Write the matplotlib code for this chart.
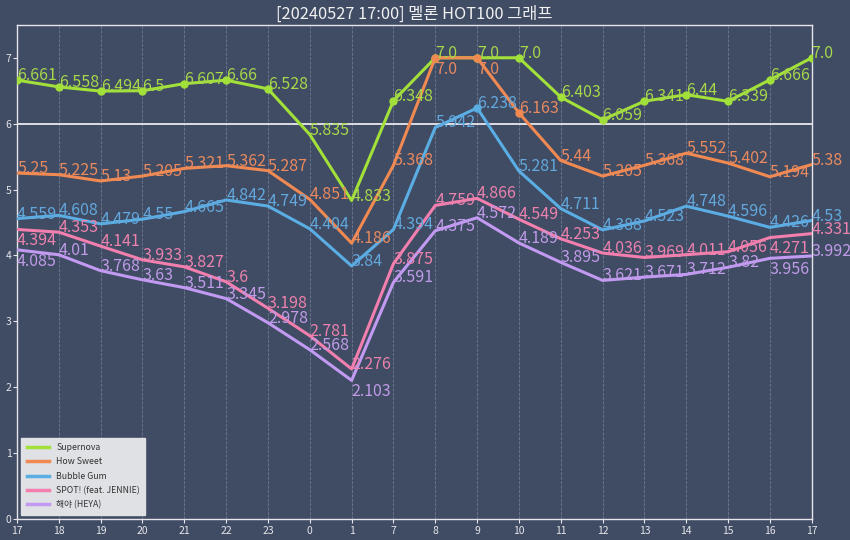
import matplotlib
matplotlib.use("Agg")
import matplotlib.pyplot as plt
from matplotlib.transforms import offset_copy

plt.rcParams['font.family'] = ['Noto Sans CJK KR', 'DejaVu Sans']

hours = ['17', '18', '19', '20', '21', '22', '23', '0', '1', '7', '8',
         '9', '10', '11', '12', '13', '14', '15', '16', '17']

supernova = [6.661, 6.558, 6.494, 6.5, 6.607, 6.66, 6.528, 5.835, 4.833, 6.348,
             7.0, 7.0, 7.0, 6.403, 6.059, 6.341, 6.44, 6.339, 6.666, 7.0]
how_sweet = [5.25, 5.225, 5.13, 5.205, 5.321, 5.362, 5.287, 4.851, 4.186, 5.368,
             7.0, 7.0, 6.163, 5.44, 5.205, 5.368, 5.552, 5.402, 5.194, 5.38]
bubble_gum = [4.559, 4.608, 4.479, 4.55, 4.665, 4.842, 4.749, 4.404, 3.84, 4.394,
              5.942, 6.238, 5.281, 4.711, 4.388, 4.523, 4.748, 4.596, 4.426, 4.53]
spot = [4.394, 4.353, 4.141, 3.933, 3.827, 3.6, 3.198, 2.781, 2.276, 3.875,
        4.759, 4.866, 4.549, 4.253, 4.036, 3.969, 4.011, 4.056, 4.271, 4.331]
heya = [4.085, 4.01, 3.768, 3.63, 3.511, 3.345, 2.978, 2.568, 2.103, 3.591,
        4.375, 4.572, 4.189, 3.895, 3.621, 3.671, 3.712, 3.82, 3.956, 3.992]

songs = ['Supernova', 'How Sweet', 'Bubble Gum', 'SPOT! (feat. JENNIE)', '해야 (HEYA)']
series = [supernova, how_sweet, bubble_gum, spot, heya]
line_colors = ['#a2e03a', '#f08a52', '#5aaee4', '#f27fae', '#c29af2']
text_colors = ['#a6d84a', '#e98a5e', '#63a8dc', '#ec82ad', '#c09be8']

bg = '#404b64'
fig = plt.figure(figsize=(8.5, 5.4), dpi=100, facecolor=bg)
ax = fig.add_axes([0.02, 0.039, 0.935, 0.915])
ax.set_facecolor(bg)

x = list(range(len(hours)))
for vals, name, c in zip(series, songs, line_colors):
    ax.plot(x, vals, color=c, lw=2.2, label=name, zorder=3)
    hi = [(i, v) for i, v in zip(x, vals) if v >= 6]
    ax.plot([p[0] for p in hi], [p[1] for p in hi], 'o', color=c, ms=5, zorder=4)

ax.axhline(6, color='#e8e8ee', lw=1.3, zorder=2)
ax.set_xlim(0, len(hours) - 1)
ax.set_ylim(0, 7.5)
ax.set_xticks(x)
ax.set_xticklabels(hours)
ax.set_yticks(range(8))
ax.tick_params(colors='#e6e6ea', labelsize=7.5, length=3, pad=2)
ax.tick_params(axis='y', pad=1)
for s in ax.spines.values():
    s.set_color('#e6e6ea')
    s.set_linewidth(1.0)
ax.grid(axis='x', color='#6f7a92', ls='--', lw=0.6)
ax.set_axisbelow(True)

ax.set_title('[20240527 17:00] 멜론 HOT100 그래프', color='#f0f0f0', fontsize=11.8, pad=4)

# value labels: above the point, or below it if that spot is taken
fs = 11.5
fig.canvas.draw()
renderer = fig.canvas.get_renderer()
placed = []
for vals, c in zip(series, text_colors):
    for i, v in zip(x, vals):
        txt = None
        for va, dy in (('baseline', 0), ('top', -2)):
            tr = offset_copy(ax.transData, fig=fig, x=0, y=dy, units='points')
            t = ax.text(i, v, str(v), color=c, fontsize=fs, ha='left', va=va,
                        transform=tr, clip_on=False, zorder=5)
            bb = t.get_window_extent(renderer).expanded(0.9, 0.7)
            if not any(bb.overlaps(p) for p in placed):
                txt = t
                break
            t.remove()
        if txt is None:
            tr = offset_copy(ax.transData, fig=fig, x=0, y=0, units='points')
            txt = ax.text(i, v, str(v), color=c, fontsize=fs, ha='left',
                          va='baseline', transform=tr, clip_on=False, zorder=5)
            bb = txt.get_window_extent(renderer).expanded(0.9, 0.7)
        placed.append(bb)

leg = ax.legend(loc='lower left', fontsize=6.3, frameon=True, fancybox=False,
                borderpad=0.6, labelspacing=0.6, handlelength=2.6)
leg.get_frame().set_facecolor('#dfe1e5')
leg.get_frame().set_alpha(1)
leg.get_frame().set_edgecolor('#dfe1e5')
for t in leg.get_texts():
    t.set_color('#333333')
for h in leg.get_lines():
    h.set_linewidth(2.5)

fig.savefig('out.png', facecolor=bg)
